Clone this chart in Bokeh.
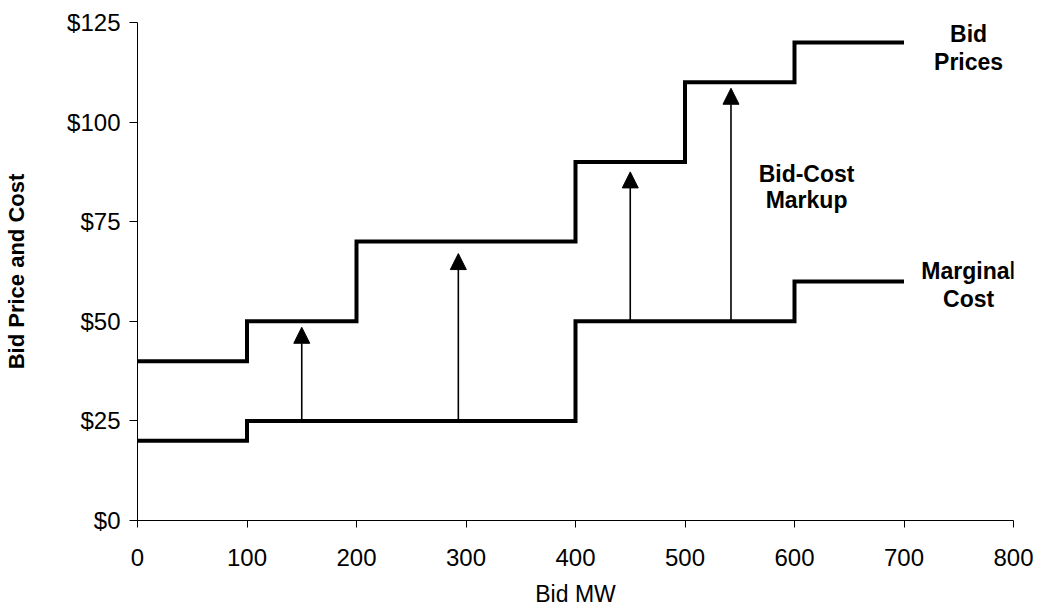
from bokeh.plotting import figure
from bokeh.models import Range1d, FixedTicker, NumeralTickFormatter, Arrow, NormalHead, ColumnDataSource
from bokeh.core.properties import value
from bokeh.embed import file_html
from bokeh.resources import INLINE

# Data
bid_mw = [0, 100, 200, 400, 500, 600, 700]
bid_price = [40, 50, 70, 90, 110, 120, 120]
cost_mw = [0, 100, 400, 600, 700]
marginal_cost = [20, 25, 50, 60, 60]

markup_x = [150, 293, 450, 542]
markup_from = [25, 25, 50, 50]
markup_to = [48.5, 67, 87.5, 108.5]

x_ticks = [0, 100, 200, 300, 400, 500, 600, 700, 800]
y_ticks = [0, 25, 50, 75, 100, 125]

note_text = ["Bid", "Prices", "Bid-Cost", "Markup", "Marginal", "Cost"]
note_x = [759, 759, 611, 611, 759, 759]
note_y = [122.0, 115.1, 86.9, 80.4, 62.6, 55.7]

FONT = "Liberation Sans"

p = figure(width=1037, height=611, output_backend="svg", toolbar_location=None,
           x_range=Range1d(0, 800), y_range=Range1d(0, 125),
           min_border_left=137, min_border_right=24, min_border_top=22, min_border_bottom=91)
p.outline_line_color = None
p.grid.visible = False
p.background_fill_color = "white"
p.border_fill_color = "white"

# Axes
p.xaxis.ticker = FixedTicker(ticks=x_ticks)
p.yaxis.ticker = FixedTicker(ticks=y_ticks)
p.yaxis.formatter = NumeralTickFormatter(format="$0")
for ax in (p.xaxis[0], p.yaxis[0]):
    ax.axis_line_color = "black"
    ax.axis_line_width = 1
    ax.major_tick_line_color = "black"
    ax.minor_tick_line_color = None
    ax.major_tick_in = 0
    ax.major_label_text_font = FONT
    ax.major_label_text_font_size = "24px"
    ax.major_label_text_color = "black"
    ax.axis_label_text_font = FONT
    ax.axis_label_text_color = "black"
    ax.axis_label_text_font_style = "normal"

p.xaxis.major_tick_out = 7
p.xaxis.major_label_standoff = 21
p.xaxis.axis_label = "Bid MW"
p.xaxis.axis_label_text_font_size = "23px"
p.xaxis.axis_label_standoff = 12

p.yaxis.major_tick_out = 8
p.yaxis.major_label_standoff = 9
p.yaxis.axis_label = "Bid Price and Cost"
p.yaxis.axis_label_text_font_size = "22px"
p.yaxis.axis_label_text_font_style = "bold"
p.yaxis.axis_label_standoff = 35

# Step lines
p.step(bid_mw, bid_price, mode="after", line_color="black", line_width=4, line_join="miter")
p.step(cost_mw, marginal_cost, mode="after", line_color="black", line_width=4, line_join="miter")

# Markup arrows
arrow_src = ColumnDataSource(dict(x0=markup_x, y0=markup_from, x1=markup_x, y1=markup_to))
p.add_layout(Arrow(source=arrow_src, x_start="x0", y_start="y0", x_end="x1", y_end="y1",
                   line_color="black", line_width=1.6,
                   end=NormalHead(size=16, fill_color="black", line_color="black", line_width=1)))

# Annotations
note_src = ColumnDataSource(dict(x=note_x, y=note_y, t=note_text))
p.text(x="x", y="y", text="t", source=note_src, text_font=value(FONT),
       text_font_style="bold", text_font_size="23px", text_color="black",
       text_align="center", text_baseline="middle")

open("out.html", "w").write(file_html(p, INLINE))
